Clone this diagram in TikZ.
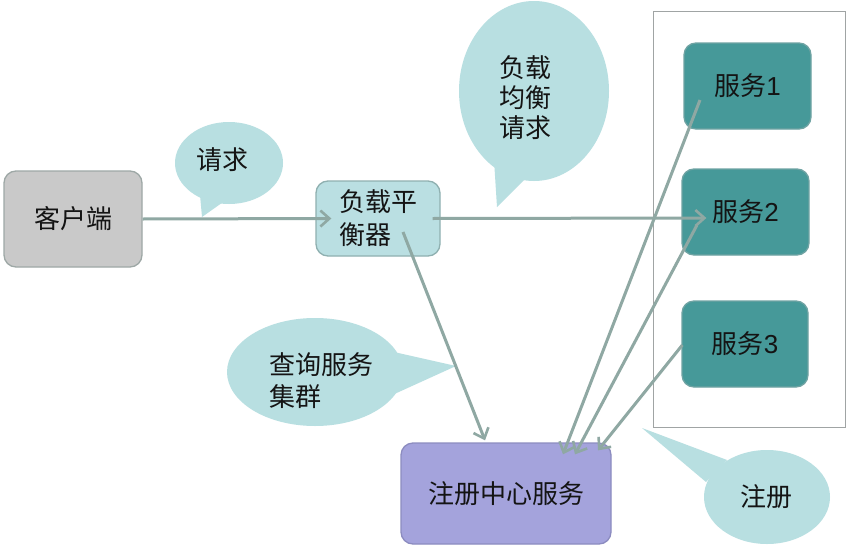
\documentclass[tikz,border=0pt]{standalone}
\usepackage{fontspec}
\setmainfont{Liberation Sans}
\newfontfamily\cjk{Noto Sans CJK SC}
\usetikzlibrary{arrows.meta,shapes.geometric}
\definecolor{linec}{HTML}{8FA8A3}
\definecolor{clientfill}{HTML}{C9C9C9}
\definecolor{clientdraw}{HTML}{9EA8A6}
\definecolor{lbfill}{HTML}{BADFE2}
\definecolor{lbdraw}{HTML}{8FB0B0}
\definecolor{bubfill}{HTML}{B8DFE1}
\definecolor{svcfill}{HTML}{469999}
\definecolor{svcdraw}{HTML}{6FA3A3}
\definecolor{regfill}{HTML}{A4A3DC}
\definecolor{regdraw}{HTML}{8C8CC0}
\definecolor{boxline}{HTML}{A0A4A4}
\tikzset{
  txt/.style={font=\cjk\fontsize{26}{33}\selectfont, text=black!92},
  boxnode/.style={txt, rectangle, rounded corners=12pt, draw, line width=1.3pt, inner sep=0pt},
  bubble/.style={ellipse, fill=bubfill, draw=none, inner sep=0pt},
  conn/.style={draw=linec, line width=3pt, -{Straight Barb[length=9pt,width=16pt,line width=2.6pt]}},
  plainline/.style={draw=linec, line width=3pt}
}
\begin{document}
\begin{tikzpicture}[x=1pt,y=-1pt]
\useasboundingbox (0,0) rectangle (862,554);
\fill[white] (0,0) rectangle (862,554);

% container
\node[draw=boxline, line width=0.8pt, rectangle, minimum width=192pt, minimum height=416pt, inner sep=0pt] (group) at (749,219) {};

% boxes
\node[boxnode, fill=clientfill, draw=clientdraw, minimum width=138pt, minimum height=96pt] (client) at (73,219) {客户端};
\node[boxnode, fill=lbfill, draw=lbdraw, minimum width=124pt, minimum height=75pt, align=left] (lb) at (378,218.5) {负载平\\衡器};
\node[boxnode, fill=svcfill, draw=svcdraw, minimum width=127pt, minimum height=86pt] (svc1) at (747.5,86) {服务{\rmfamily 1}};
\node[boxnode, fill=svcfill, draw=svcdraw, minimum width=127pt, minimum height=86pt] (svc2) at (745.5,212) {服务{\rmfamily 2}};
\node[boxnode, fill=svcfill, draw=svcdraw, minimum width=126pt, minimum height=86pt] (svc3) at (745,344) {服务{\rmfamily 3}};
\node[boxnode, fill=regfill, draw=regdraw, minimum width=210pt, minimum height=101pt] (reg) at (506,493.5) {注册中心服务};

% bubbles
\node[bubble, minimum width=108pt, minimum height=82pt] (breq) at (229,163) {};
\fill[bubfill] (200,195) -- (202,217) -- (226,200) -- cycle;
\node[txt] (treq) at (222,160) {请求};

\node[bubble, minimum width=150pt, minimum height=180pt] (blb) at (534,91) {};
\fill[bubfill] (494,160) -- (497,207) -- (532,172) -- cycle;
\node[txt, align=center, font=\cjk\fontsize{26}{30}\selectfont] (tlb) at (525,98) {负载\\均衡\\请求};

\node[bubble, minimum width=176pt, minimum height=108pt] (bq) at (315,372) {};
\fill[bubfill] (385,350) -- (456,366) -- (390,396) -- cycle;
\node[txt, align=left, anchor=west, font=\cjk\fontsize{26}{32}\selectfont] (tq) at (266,381) {查询服务\\集群};

\node[bubble, minimum width=126pt, minimum height=94pt] (breg) at (767,497) {};
\fill[bubfill] (727,460) -- (642,428) -- (706,482) -- cycle;
\node[txt] (treg) at (766,497) {注册};

% connectors
\draw[conn] (client.east) -- ([xshift=16pt]lb.west);
\draw[conn] ([xshift=-8pt]lb.east) -- ([xshift=25pt,yshift=-6pt]svc2.west);
\draw[conn] ([xshift=25pt,yshift=-13.5pt]lb.center) -- ([xshift=-21pt,yshift=2pt]reg.north);
\draw[conn] ([xshift=-47.5pt,yshift=-14pt]svc1.center) -- ([xshift=57pt,yshift=-12pt]reg.north);
\draw[conn] ([xshift=-48.5pt,yshift=-13pt]svc2.center) -- ([xshift=69pt,yshift=-12pt]reg.north);
\draw[conn] ([xshift=1pt,yshift=-1pt]svc3.west) -- ([xshift=92pt,yshift=-8pt]reg.north);
\end{tikzpicture}
\end{document}
